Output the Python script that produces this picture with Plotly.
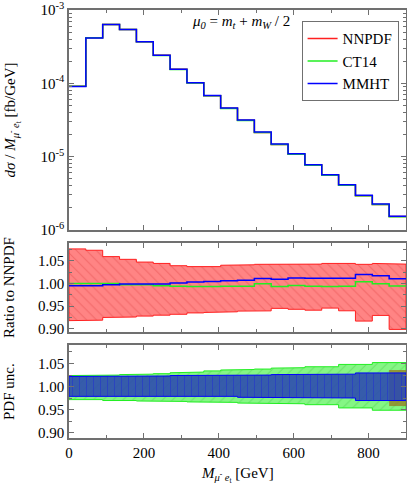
import plotly.graph_objects as go
from plotly.subplots import make_subplots

# bin edges in M_{mu- e_t} [GeV]
edges = [0, 45, 90, 135, 180, 225, 270, 315, 360, 405, 450,
         495, 540, 585, 630, 675, 720, 765, 810, 855, 900]

# NNPDF central value, d sigma / dM [fb/GeV]
nnpdf = [9.1e-5, 4.19e-4, 6.37e-4, 5.44e-4, 3.70e-4, 2.42e-4, 1.56e-4, 1.02e-4,
         6.8e-5, 4.57e-5, 3.13e-5, 2.14e-5, 1.47e-5, 1.08e-5, 7.67e-6, 5.6e-6,
         4.09e-6, 2.92e-6, 2.22e-6, 1.52e-6]

# ratio to NNPDF central
nn_ratio_up = [1.076, 1.073, 1.059, 1.053, 1.047, 1.044, 1.039, 1.037, 1.037, 1.040,
               1.041, 1.042, 1.042, 1.042, 1.0425, 1.044, 1.044, 1.042, 1.044, 1.0425]
nn_ratio_dn = [0.918, 0.919, 0.925, 0.926, 0.928, 0.930, 0.932, 0.935, 0.936, 0.9375,
               0.939, 0.9395, 0.945, 0.943, 0.941, 0.9456, 0.9397, 0.917, 0.9295, 0.8987]
ct14_ratio = [1.000, 1.000, 1.000, 0.997, 0.997, 0.995, 0.994, 0.993, 0.993, 0.9935,
              0.9935, 0.999, 0.993, 0.9955, 0.994, 0.9934, 0.994, 1.0035, 0.999, 0.9945]
mmht_ratio = [0.995, 0.995, 0.997, 0.9985, 0.9985, 0.9985, 1.0007, 1.003, 1.004, 1.006,
              1.007, 1.011, 1.009, 1.0117, 1.0115, 1.0115, 1.0115, 1.0198, 1.0168, 1.010]

# PDF uncertainty bands (normalised to own central)
ct14_up = [1.024, 1.024, 1.025, 1.026, 1.027, 1.028, 1.030, 1.0315, 1.034, 1.036,
           1.037, 1.038, 1.040, 1.041, 1.043, 1.043, 1.048, 1.048, 1.052, 1.052]
ct14_dn = [0.972, 0.972, 0.970, 0.970, 0.969, 0.969, 0.968, 0.967, 0.966, 0.966,
           0.9645, 0.9645, 0.964, 0.963, 0.961, 0.961, 0.954, 0.954, 0.949, 0.949]
mmht_up = [1.022, 1.022, 1.022, 1.023, 1.023, 1.023, 1.024, 1.024, 1.0245, 1.0245,
           1.025, 1.025, 1.026, 1.027, 1.027, 1.027, 1.027, 1.0296, 1.0296, 1.0296]
mmht_dn = [0.979, 0.979, 0.979, 0.979, 0.979, 0.979, 0.979, 0.979, 0.979, 0.979,
           0.977, 0.977, 0.976, 0.9755, 0.9755, 0.9755, 0.9755, 0.970, 0.970, 0.970]
nn_pdf_up = [None] * 19 + [1.036]
nn_pdf_dn = [None] * 19 + [0.958]

# log axis ticks
log_major = [1e-6, 1e-5, 1e-4, 1e-3]
log_labels = ["10<sup>-6</sup>", "10<sup>-5</sup>", "10<sup>-4</sup>", "10<sup>-3</sup>"]
log_minor = [m * 10.0 ** e for e in (-6, -5, -4) for m in range(2, 10)]

RED = "#ff2020"
GREEN = "#22ee22"
BLUE = "#0000ff"
FONT = "Liberation Serif"
AX = "#707070"


def steps(vals):
    # y for a 'hv' step line drawn over the edges
    return list(vals) + [vals[-1]]


def band(lo, hi):
    # closed step polygon, skipping empty bins
    xs, ys = [], []
    idx = [i for i in range(len(lo)) if lo[i] is not None]
    for i in idx:
        xs += [edges[i], edges[i + 1]]
        ys += [hi[i], hi[i]]
    for i in reversed(idx):
        xs += [edges[i + 1], edges[i]]
        ys += [lo[i], lo[i]]
    return xs + xs[:1], ys + ys[:1]


ct14 = [a * b for a, b in zip(nnpdf, ct14_ratio)]
mmht = [a * b for a, b in zip(nnpdf, mmht_ratio)]

fig = make_subplots(rows=3, cols=1, shared_xaxes=True)

# top panel
for name, vals, col in [("NNPDF", nnpdf, RED), ("CT14", ct14, GREEN), ("MMHT", mmht, BLUE)]:
    fig.add_trace(go.Scatter(x=edges, y=steps(vals), mode="lines", name=name,
                             line=dict(color=col, width=1.5, shape="hv")), row=1, col=1)

# ratio panel
bx, by = band(nn_ratio_dn, nn_ratio_up)
fig.add_trace(go.Scatter(x=bx, y=by, mode="lines", fill="toself", showlegend=False,
                         line=dict(color=RED, width=1),
                         fillcolor="rgba(255,110,110,0.85)",
                         fillpattern=dict(shape="\\", fgcolor="rgba(210,40,40,0.6)",
                                          size=7, solidity=0.15, fillmode="overlay")),
              row=2, col=1)
fig.add_trace(go.Scatter(x=edges, y=steps(ct14_ratio), mode="lines", showlegend=False,
                         line=dict(color=GREEN, width=1.5, shape="hv")), row=2, col=1)
fig.add_trace(go.Scatter(x=edges, y=steps(mmht_ratio), mode="lines", showlegend=False,
                         line=dict(color=BLUE, width=1.5, shape="hv")), row=2, col=1)

# PDF uncertainty panel
bx, by = band(ct14_dn, ct14_up)
fig.add_trace(go.Scatter(x=bx, y=by, mode="lines", fill="toself", showlegend=False,
                         line=dict(color=GREEN, width=1),
                         fillcolor="rgba(120,245,120,0.9)",
                         fillpattern=dict(shape="/", fgcolor="rgba(40,180,40,0.6)",
                                          size=7, solidity=0.15, fillmode="overlay")),
              row=3, col=1)
bx, by = band(nn_pdf_dn, nn_pdf_up)
fig.add_trace(go.Scatter(x=bx, y=by, mode="lines", fill="toself", showlegend=False,
                         line=dict(width=0),
                         fillcolor="rgba(150,120,30,0.75)"), row=3, col=1)
bx, by = band(mmht_dn, mmht_up)
fig.add_trace(go.Scatter(x=bx, y=by, mode="lines", fill="toself", showlegend=False,
                         line=dict(color=BLUE, width=1),
                         fillcolor="rgba(45,75,175,0.9)",
                         fillpattern=dict(shape="|", fgcolor="rgba(20,20,230,0.8)",
                                          size=7, solidity=0.12, fillmode="overlay")),
              row=3, col=1)

axis_style = dict(showline=True, linecolor=AX, linewidth=1.5, mirror="allticks",
                  ticks="inside", ticklen=5, tickwidth=1, tickcolor=AX,
                  showgrid=False, zeroline=False, automargin=False,
                  tickfont=dict(family=FONT, size=15, color="black"))

fig.update_xaxes(**axis_style, range=[0, 900], dtick=200,
                 minor=dict(ticks="inside", dtick=100, ticklen=3, tickcolor=AX))
fig.update_xaxes(showticklabels=False, row=1, col=1)
fig.update_xaxes(showticklabels=False, row=2, col=1)
fig.update_yaxes(**axis_style)
fig.update_yaxes(type="log", range=[-6.001, -2.999], tickvals=log_major, ticktext=log_labels,
                 minor=dict(ticks="inside", tickvals=log_minor, ticklen=3, tickcolor=AX),
                 row=1, col=1)
ratio_ticks = dict(tickvals=[0.90, 0.95, 1.00, 1.05], tickformat=".2f",
                   minor=dict(ticks="inside", dtick=0.025, ticklen=3, tickcolor=AX))
fig.update_yaxes(range=[0.893, 1.089], **ratio_ticks, row=2, col=1)
fig.update_yaxes(range=[0.889, 1.090], **ratio_ticks, row=3, col=1)

fig.update_layout(
    width=407, height=488,
    margin=dict(l=69, r=1, t=10, b=50),
    plot_bgcolor="white", paper_bgcolor="white",
    font=dict(family=FONT, size=15, color="black"),
    yaxis=dict(domain=[0.486, 1.0]),
    yaxis2=dict(domain=[0.2477, 0.4556]),
    yaxis3=dict(domain=[0.0, 0.2173]),
    legend=dict(x=0.978, y=0.974, xanchor="right", yanchor="top",
                bgcolor="white", bordercolor=AX, borderwidth=1,
                font=dict(family=FONT, size=15), tracegroupgap=0,
                itemwidth=30),
    showlegend=True,
)

ylab = dict(xref="paper", yref="paper", showarrow=False, textangle=-90,
            xanchor="center", yanchor="middle", font=dict(family=FONT, size=15))
fig.add_annotation(x=-0.168, y=0.743,
                   text="<i>dσ</i> / <i>M</i><sub><i>μ</i><sup>-</sup> <i>e</i><sub>t</sub></sub> [fb/GeV]",
                   **ylab)
fig.add_annotation(x=-0.176, y=0.352, text="Ratio to NNPDF", **ylab)
fig.add_annotation(x=-0.176, y=0.109, text="PDF unc.", **ylab)
fig.add_annotation(x=0.5, y=-0.086, xref="paper", yref="paper", showarrow=False,
                   xanchor="center", yanchor="middle", font=dict(family=FONT, size=15),
                   text="<i>M</i><sub><i>μ</i><sup>-</sup> <i>e</i><sub>t</sub></sub> [GeV]")
fig.add_annotation(x=0.3585, y=0.972, xref="paper", yref="paper", showarrow=False,
                   xanchor="left", yanchor="middle", font=dict(family=FONT, size=15),
                   text="<i>μ<sub>0</sub></i> = <i>m<sub>t</sub></i> + <i>m<sub>W</sub></i> / 2")

# drop the default 8px page margin so the figure fills the window
fig.write_html("out.html", config={"displayModeBar": False},
               post_script="document.body.style.margin = '0px';")
